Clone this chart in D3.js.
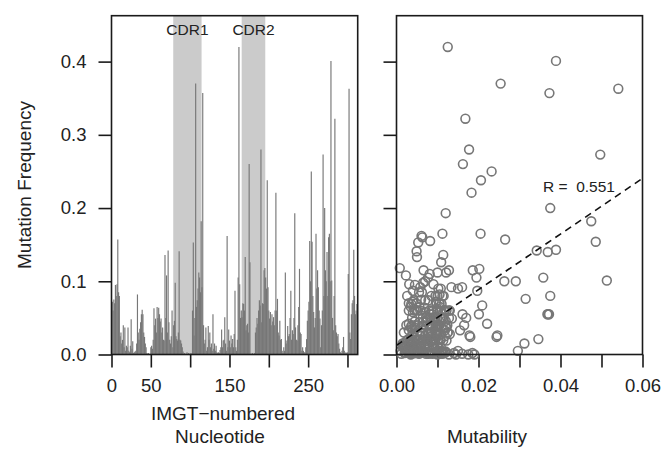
<!DOCTYPE html>
<html><head><meta charset="utf-8">
<script src="https://cdn.jsdelivr.net/npm/d3@7/dist/d3.min.js"></script>
<style>
body{margin:0;background:#fff;}
svg text{font-family:"Liberation Sans",Arial,Helvetica,sans-serif;fill:#222;}
</style></head><body>
<svg id="chart" width="666" height="455"></svg>
<script>
// Mutation frequency per IMGT-numbered nucleotide (1..312)
const freq = [
0.072,0.060,0.075,0.070,0.095,0.080,0.096,0.157,0.085,0.080,
0.025,0.030,0.015,0.020,0.040,0.010,0.037,0.005,0.012,0.010,
0.037,0.005,0.003,0.012,0.048,0.008,0.018,0.002,0.003,0.004,
0.005,0.015,0.082,0.030,0.020,0.035,0.044,0.055,0.061,0.055,
0.030,0.024,0.015,0.010,0.002,0.001,0.002,0.000,0.001,0.010,
0.012,0.008,0.020,0.063,0.040,0.049,0.030,0.065,0.050,0.064,
0.055,0.045,0.049,0.030,0.037,0.020,0.019,0.136,0.050,0.108,
0.030,0.142,0.044,0.020,0.015,0.025,0.060,0.010,0.040,0.046,
0.098,0.025,0.021,0.019,0.030,0.141,0.020,0.019,0.015,0.010,
0.004,0.001,0.002,0.000,0.001,0.003,0.000,0.002,0.001,0.000,
0.002,0.001,0.060,0.153,0.026,0.050,0.370,0.065,0.074,0.090,
0.112,0.105,0.085,0.182,0.092,0.357,0.040,0.015,0.020,0.037,
0.005,0.010,0.039,0.020,0.030,0.010,0.015,0.005,0.055,0.008,
0.015,0.005,0.012,0.003,0.002,0.003,0.002,0.006,0.010,0.034,
0.010,0.019,0.020,0.051,0.015,0.005,0.162,0.010,0.034,0.019,
0.010,0.026,0.015,0.021,0.010,0.028,0.087,0.010,0.005,0.020,
0.105,0.420,0.096,0.050,0.060,0.051,0.070,0.069,0.060,0.133,
0.033,0.040,0.042,0.030,0.260,0.126,0.001,0.000,0.002,0.001,
0.000,0.002,0.030,0.037,0.050,0.042,0.060,0.074,0.067,0.280,
0.044,0.070,0.069,0.115,0.118,0.105,0.090,0.238,0.092,0.060,
0.049,0.058,0.040,0.055,0.045,0.051,0.040,0.060,0.221,0.060,
0.076,0.030,0.026,0.046,0.020,0.021,0.005,0.002,0.010,0.005,
0.112,0.015,0.019,0.039,0.025,0.028,0.050,0.087,0.020,0.033,
0.028,0.050,0.193,0.037,0.020,0.019,0.040,0.065,0.117,0.030,
0.028,0.005,0.010,0.005,0.003,0.003,0.010,0.021,0.046,0.060,
0.072,0.155,0.100,0.250,0.154,0.080,0.058,0.037,0.050,0.165,
0.090,0.115,0.092,0.060,0.049,0.010,0.040,0.060,0.273,0.080,
0.200,0.115,0.100,0.140,0.080,0.160,0.165,0.100,0.401,0.101,
0.050,0.033,0.080,0.322,0.040,0.030,0.025,0.028,0.015,0.008,
0.003,0.002,0.005,0.010,0.024,0.005,0.002,0.003,0.002,0.003,
0.110,0.363,0.030,0.021,0.055,0.070,0.074,0.143,0.080,0.055,
0.060,0.069
];
// Mutability per nucleotide (same order)
const mutability = [
0.0040,0.0085,0.0060,0.0030,0.0045,0.0095,0.0031,0.0265,0.0055,0.0026,
0.0070,0.0100,0.0020,0.0050,0.0080,0.0015,0.0110,0.0035,0.0060,0.0090,
0.0045,0.0010,0.0065,0.0025,0.0095,0.0040,0.0075,0.0020,0.0055,0.0120,
0.0085,0.0030,0.0105,0.0062,0.0090,0.0038,0.0072,0.0368,0.0048,0.0088,
0.0125,0.0180,0.0058,0.0022,0.0045,0.0012,0.0080,0.0035,0.0105,0.0068,
0.0042,0.0095,0.0028,0.0098,0.0052,0.0115,0.0078,0.0035,0.0100,0.0068,
0.0161,0.0044,0.0092,0.0018,0.0120,0.0064,0.0032,0.0114,0.0082,0.0023,
0.0098,0.0342,0.0056,0.0108,0.0040,0.0087,0.0118,0.0025,0.0066,0.0092,
0.0065,0.0038,0.0102,0.0050,0.0084,0.0049,0.0075,0.0122,0.0015,0.0060,
0.0098,0.0160,0.0042,0.0190,0.0072,0.0110,0.0175,0.0030,0.0088,0.0128,
0.0052,0.0112,0.0130,0.0053,0.0096,0.0170,0.0254,0.0106,0.0078,0.0150,
0.0121,0.0195,0.0062,0.0475,0.0134,0.0373,0.0084,0.0046,0.0106,0.0036,
0.0296,0.0070,0.0095,0.0026,0.0125,0.0058,0.0312,0.0044,0.0372,0.0092,
0.0033,0.0105,0.0068,0.0022,0.0085,0.0048,0.0115,0.0038,0.0076,0.0100,
0.0028,0.0090,0.0054,0.0112,0.0016,0.0062,0.0061,0.0100,0.0046,0.0082,
0.0034,0.0246,0.0072,0.0346,0.0050,0.0095,0.0040,0.0108,0.0027,0.0064,
0.0358,0.0125,0.0090,0.0128,0.0058,0.0095,0.0104,0.0036,0.0080,0.0050,
0.0118,0.0044,0.0221,0.0086,0.0162,0.0109,0.0055,0.0100,0.0032,0.0078,
0.0145,0.0045,0.0105,0.0060,0.0092,0.0030,0.0116,0.0070,0.0209,0.0177,
0.0096,0.0048,0.0110,0.0186,0.0008,0.0077,0.0102,0.0206,0.0058,0.0122,
0.0075,0.0040,0.0104,0.0201,0.0066,0.0090,0.0024,0.0100,0.0183,0.0052,
0.0315,0.0085,0.0178,0.0120,0.0040,0.0096,0.0062,0.0185,0.0020,0.0110,
0.0100,0.0058,0.0114,0.0036,0.0082,0.0130,0.0064,0.0197,0.0094,0.0030,
0.0108,0.0072,0.0120,0.0097,0.0046,0.0088,0.0124,0.0056,0.0202,0.0078,
0.0040,0.0100,0.0030,0.0150,0.0068,0.0118,0.0018,0.0086,0.0104,0.0044,
0.0096,0.0082,0.0263,0.0232,0.0486,0.0112,0.0070,0.0122,0.0038,0.0112,
0.0108,0.0128,0.0160,0.0090,0.0135,0.0055,0.0098,0.0128,0.0497,0.0375,
0.0375,0.0066,0.0291,0.0369,0.0085,0.0063,0.0205,0.0070,0.0389,0.0513,
0.0108,0.0155,0.0100,0.0168,0.0165,0.0050,0.0118,0.0076,0.0032,0.0104,
0.0060,0.0140,0.0024,0.0090,0.0244,0.0046,0.0112,0.0034,0.0078,0.0120,
0.0081,0.0541,0.0095,0.0058,0.0370,0.0105,0.0042,0.0389,0.0115,0.0082,
0.0030,0.0098
];
const cdrNames = ["CDR1","CDR2"];
const cdrStart = [78.5,165.5];
const cdrEnd = [114.5,195.5];
const leftTicks = [0,50,100,150,200,250,300];
const leftTickLabels = ["0","50","","150","","250",""];
const yTicks = [0.0,0.1,0.2,0.3,0.4];
const rightTicks = [0,0.01,0.02,0.03,0.04,0.05,0.06];
const rightTickLabels = ["0.00","","0.02","","0.04","","0.06"];
const fitIntercept = 0.0125, fitSlope = 3.8;
const rText = "R =  0.551";

const svg = d3.select("#chart");
const plotTop = 15.7, plotBottom = 354.5;
const y = d3.scaleLinear().domain([0,0.4627]).range([plotBottom, plotTop]);
const xL = d3.scaleLinear().domain([0,313]).range([111.5,357.7]);
const xR = d3.scaleLinear().domain([0,0.06]).range([396.5,642.5]);
const fs = 18.5;

// Left panel: CDR shading
svg.selectAll("rect.cdr").data(cdrNames).enter().append("rect")
  .attr("x",(d,i)=>xL(cdrStart[i])).attr("width",(d,i)=>xL(cdrEnd[i])-xL(cdrStart[i]))
  .attr("y",plotTop).attr("height",plotBottom-plotTop).attr("fill","#cbcbcb");
svg.selectAll("text.cdr").data(cdrNames).enter().append("text")
  .attr("x",(d,i)=>xL((cdrStart[i]+cdrEnd[i])/2)).attr("y",35)
  .attr("text-anchor","middle").style("font-size","15.5px").text(d=>d);
// bars
svg.append("g").selectAll("line").data(freq).enter().append("line")
  .attr("x1",(d,i)=>xL(i+1)).attr("x2",(d,i)=>xL(i+1))
  .attr("y1",y(0)).attr("y2",d=>y(d))
  .attr("stroke","#777").attr("stroke-width",1.15);

function box(x0,x1){
  svg.append("rect").attr("x",x0).attr("y",plotTop).attr("width",x1-x0).attr("height",plotBottom-plotTop)
    .attr("fill","none").attr("stroke","#1a1a1a").attr("stroke-width",1.6);
}
box(xL.range()[0], xL.range()[1]);

// left axes
const gLx = svg.append("g").attr("transform",`translate(0,${plotBottom})`)
  .call(d3.axisBottom(xL).tickValues(leftTicks).tickSize(13).tickPadding(11)
     .tickFormat((d,i)=>leftTickLabels[i]));
const gLy = svg.append("g").attr("transform",`translate(${xL.range()[0]},0)`)
  .call(d3.axisLeft(y).tickValues(yTicks).tickSize(13).tickPadding(12).tickFormat(d3.format(".1f")));
// right panel
const gRx = svg.append("g").attr("transform",`translate(0,${plotBottom})`)
  .call(d3.axisBottom(xR).tickValues(rightTicks).tickSize(13).tickPadding(11)
     .tickFormat((d,i)=>rightTickLabels[i]));
const gRy = svg.append("g").attr("transform",`translate(${xR.range()[0]},0)`)
  .call(d3.axisLeft(y).tickValues(yTicks).tickSize(13).tickFormat(""));
[gLx,gLy,gRx,gRy].forEach(g=>{
  g.select(".domain").remove();
  g.selectAll(".tick line").attr("stroke","#1a1a1a").attr("stroke-width",1.6);
  g.selectAll(".tick text").style("font-size",fs+"px").attr("fill","#222")
   .style("font-family","'Liberation Sans',Arial,sans-serif");
});

// scatter
svg.append("defs").append("clipPath").attr("id","clipR").append("rect")
  .attr("x",xR.range()[0]).attr("y",plotTop).attr("width",xR.range()[1]-xR.range()[0]).attr("height",plotBottom-plotTop);
const pts = freq.map((f,i)=>({x:mutability[i],y:f}));
svg.append("g").selectAll("circle").data(pts).enter().append("circle")
  .attr("cx",d=>xR(d.x)).attr("cy",d=>y(d.y)).attr("r",4.4)
  .attr("fill","none").attr("stroke","#777").attr("stroke-width",1.6);
svg.append("line").attr("clip-path","url(#clipR)")
  .attr("x1",xR(0)).attr("y1",y(fitIntercept))
  .attr("x2",xR(0.06)).attr("y2",y(fitIntercept+fitSlope*0.06))
  .attr("stroke","#111").attr("stroke-width",1.6).attr("stroke-dasharray","7,5");
svg.append("text").attr("x",543).attr("y",192).style("font-size","15.5px")
  .style("white-space","pre").text(rText);
box(xR.range()[0], xR.range()[1]);

// axis titles
svg.append("text").attr("transform","translate(31,185) rotate(-90)").attr("text-anchor","middle")
  .style("font-size","19px").text("Mutation Frequency");
svg.append("text").attr("x",223).attr("y",420).attr("text-anchor","middle").style("font-size","19px").text("IMGT\u2212numbered");
svg.append("text").attr("x",220).attr("y",443).attr("text-anchor","middle").style("font-size","19px").text("Nucleotide");
svg.append("text").attr("x",487).attr("y",443).attr("text-anchor","middle").style("font-size","19px").text("Mutability");
</script></body></html>
